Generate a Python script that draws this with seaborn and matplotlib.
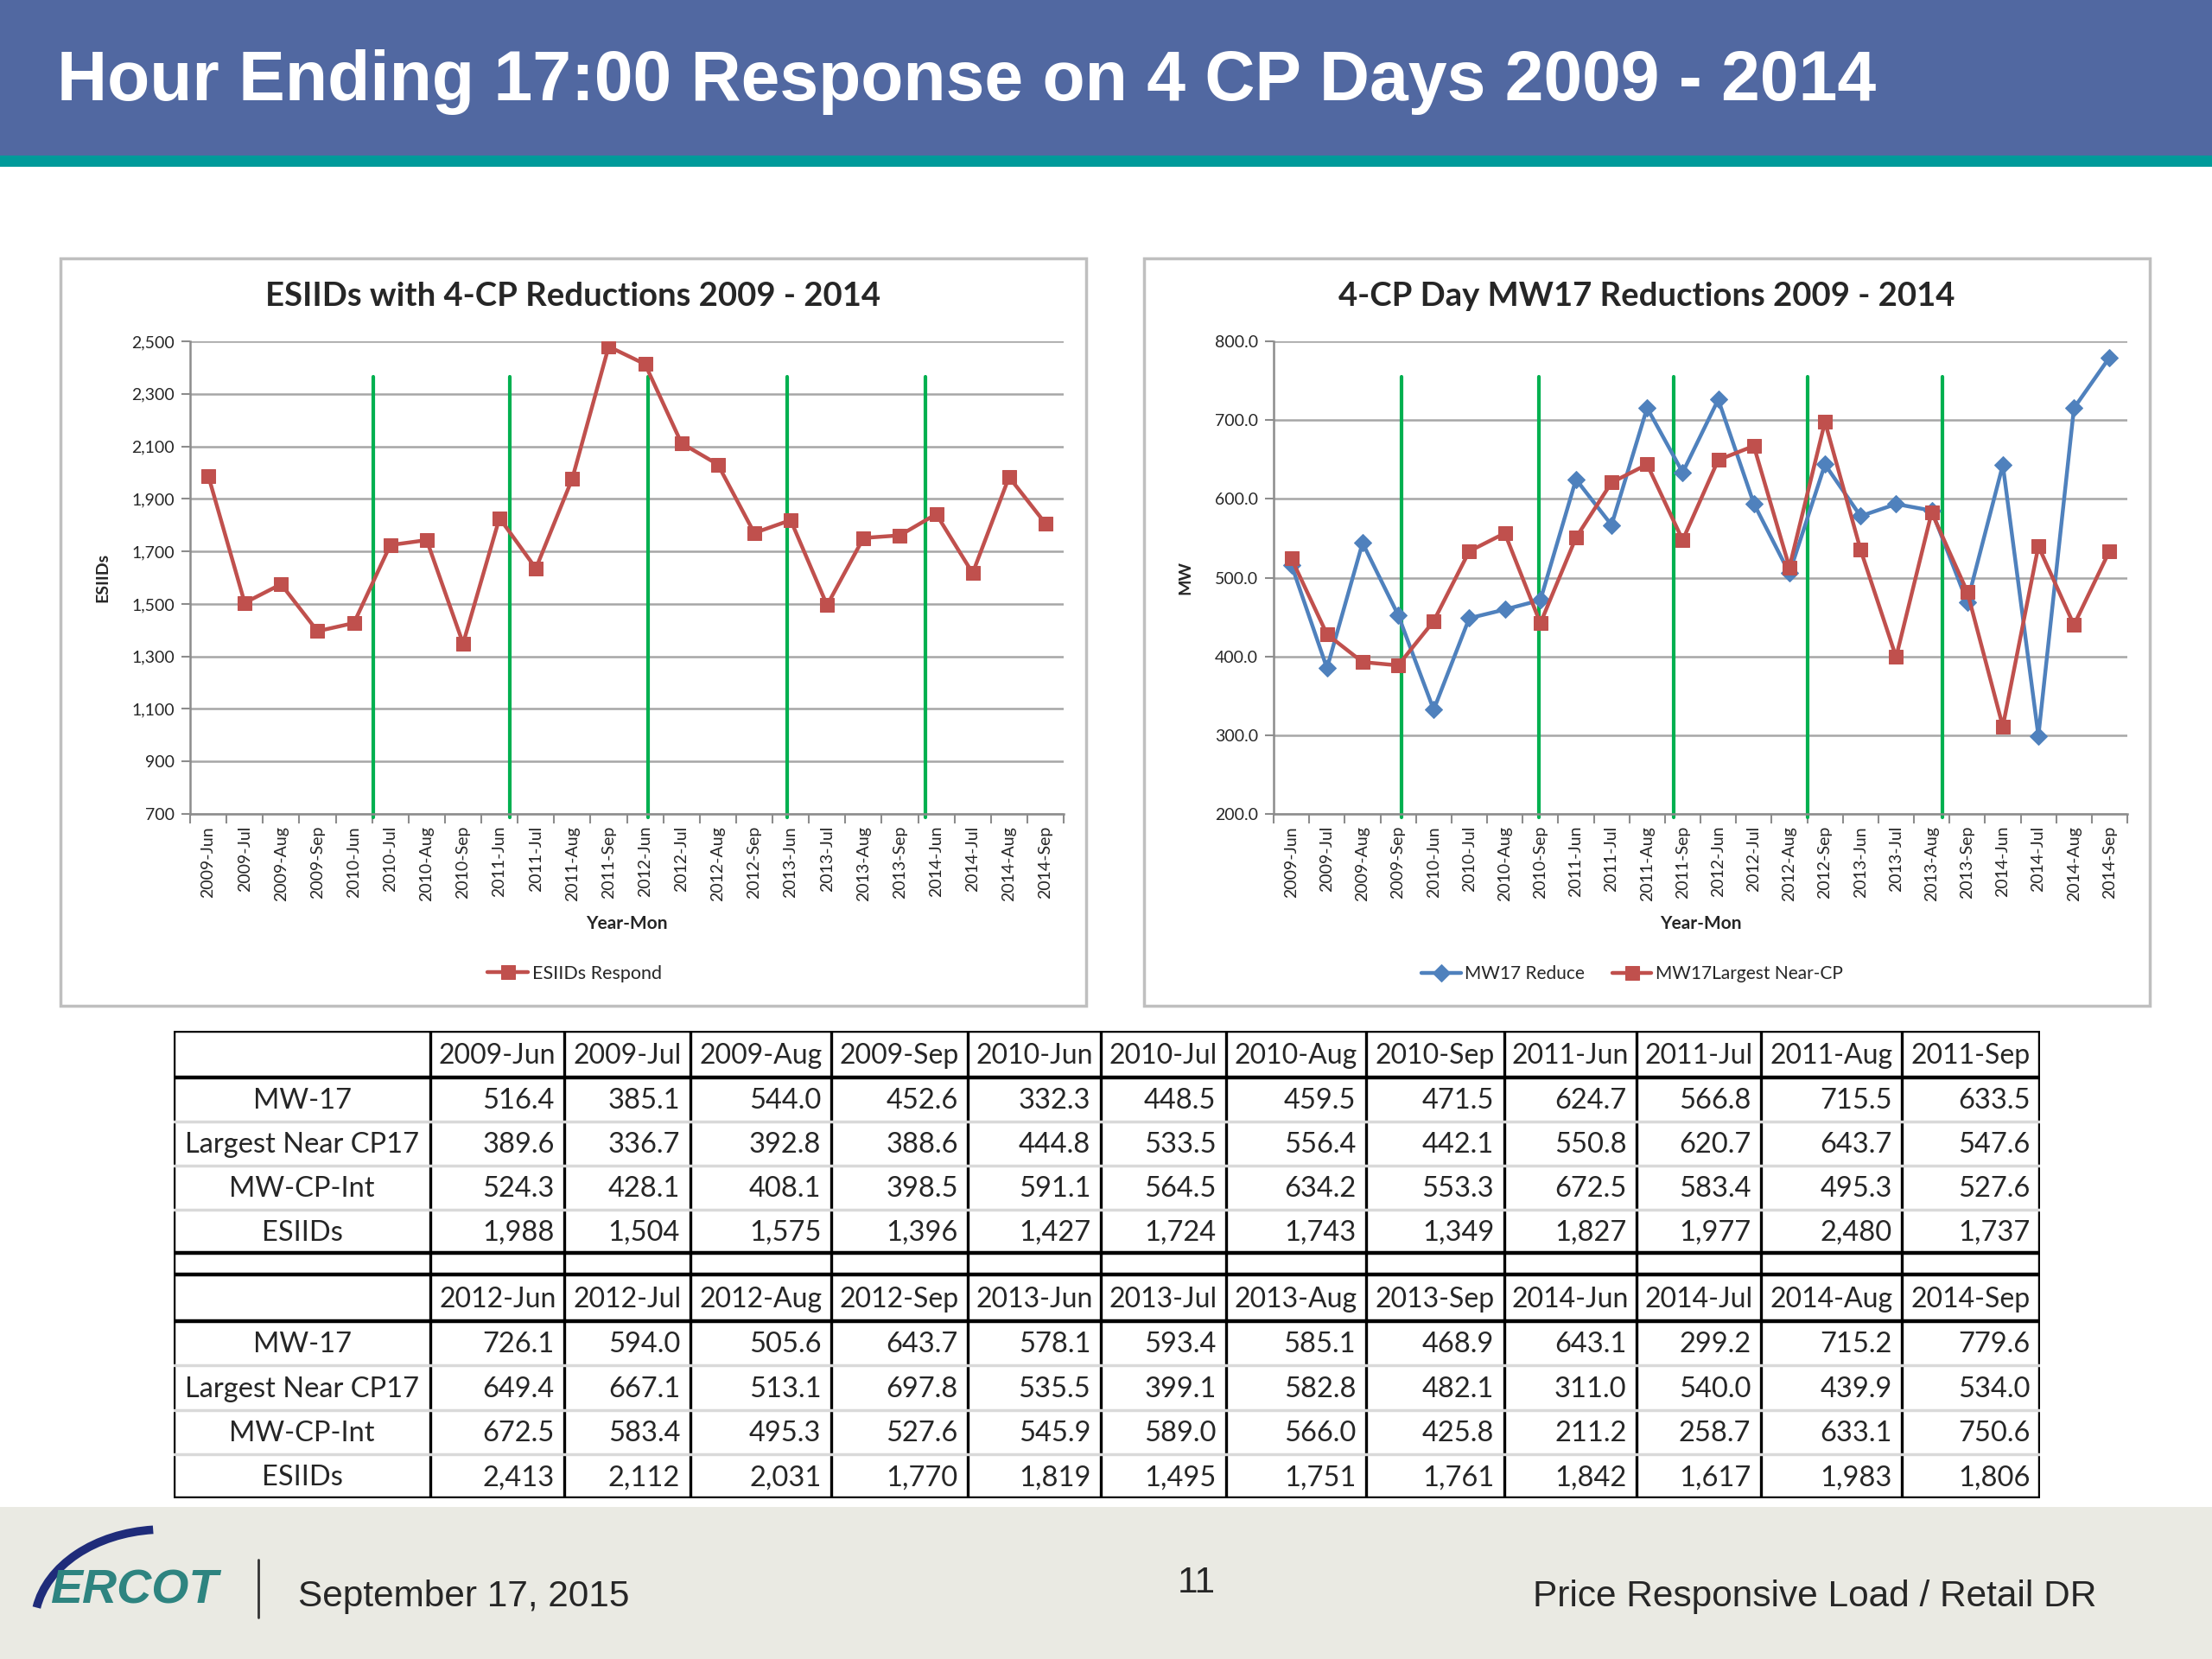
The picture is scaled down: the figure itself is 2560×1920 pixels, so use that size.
import matplotlib
matplotlib.use("Agg")
import numpy as np
import pandas as pd
import matplotlib.pyplot as plt
import seaborn as sns
from matplotlib.patches import Rectangle, Arc

# ---- data ----
months = ["2009-Jun", "2009-Jul", "2009-Aug", "2009-Sep",
          "2010-Jun", "2010-Jul", "2010-Aug", "2010-Sep",
          "2011-Jun", "2011-Jul", "2011-Aug", "2011-Sep",
          "2012-Jun", "2012-Jul", "2012-Aug", "2012-Sep",
          "2013-Jun", "2013-Jul", "2013-Aug", "2013-Sep",
          "2014-Jun", "2014-Jul", "2014-Aug", "2014-Sep"]

# chart series
esiids_respond = [1988, 1504, 1575, 1396, 1427, 1724, 1743, 1349, 1827, 1635, 1977, 2480,
                  2413, 2112, 2031, 1770, 1819, 1495, 1751, 1761, 1842, 1617, 1983, 1806]
mw17_reduce = [516.4, 385.1, 544.0, 452.6, 332.3, 448.5, 459.5, 471.5, 624.7, 566.8, 715.5, 633.5,
               726.1, 594.0, 505.6, 643.7, 578.1, 593.4, 585.1, 468.9, 643.1, 299.2, 715.2, 779.6]
mw17_near_cp = [524.3, 428.1, 392.8, 388.6, 444.8, 533.5, 556.4, 442.1, 550.8, 620.7, 643.7, 547.6,
                649.4, 667.1, 513.1, 697.8, 535.5, 399.1, 582.8, 482.1, 311.0, 540.0, 439.9, 534.0]

# separators drawn on the slide (category positions)
breaks_left = [4.54, 8.28, 12.09, 15.9, 19.7]
breaks_right = [3.1, 6.95, 10.75, 14.5, 18.3]

# table rows
row_names = ["MW-17", "Largest Near CP17", "MW-CP-Int", "ESIIDs"]
tbl_mw17 = mw17_reduce
tbl_near_cp = [389.6, 336.7, 392.8, 388.6, 444.8, 533.5, 556.4, 442.1, 550.8, 620.7, 643.7, 547.6,
               649.4, 667.1, 513.1, 697.8, 535.5, 399.1, 582.8, 482.1, 311.0, 540.0, 439.9, 534.0]
tbl_cp_int = [524.3, 428.1, 408.1, 398.5, 591.1, 564.5, 634.2, 553.3, 672.5, 583.4, 495.3, 527.6,
              672.5, 583.4, 495.3, 527.6, 545.9, 589.0, 566.0, 425.8, 211.2, 258.7, 633.1, 750.6]
tbl_esiids = [1988, 1504, 1575, 1396, 1427, 1724, 1743, 1349, 1827, 1977, 2480, 1737,
              2413, 2112, 2031, 1770, 1819, 1495, 1751, 1761, 1842, 1617, 1983, 1806]

RED = "#C0504D"
BLUE = "#4F81BD"
GREEN = "#00B050"
W, H = 2560, 1920

sns.set_theme(style="white")
plt.rcParams["font.family"] = ["Lato", "DejaVu Sans"]

fig = plt.figure(figsize=(25.6, 19.2), dpi=100)


def fx(px):
    return px / W


def fy(py):
    return 1 - py / H


def box(x0, y0, x1, y1, **kw):
    fig.patches.append(Rectangle((fx(x0), fy(y1)), fx(x1) - fx(x0), fy(y0) - fy(y1),
                                 transform=fig.transFigure, zorder=-5, **kw))


# header + footer
box(0, 0, W, 180, facecolor="#5168A1", edgecolor="none")
box(0, 180, W, 193, facecolor="#009A9A", edgecolor="none")
box(0, 1744, W, H, facecolor="#EAEAE3", edgecolor="none")
fig.text(fx(66), fy(95), "Hour Ending 17:00 Response on 4 CP Days 2009 - 2014", color="white",
         fontsize=58, fontweight="bold", family="Liberation Sans", va="center", ha="left")

# chart panels
box(70, 299, 1257, 1164, facecolor="white", edgecolor="#BFBFBF", linewidth=2.5)
box(1324, 299, 2488, 1164, facecolor="white", edgecolor="#BFBFBF", linewidth=2.5)

df = pd.DataFrame({"idx": np.arange(len(months)), "month": months,
                   "esiids": esiids_respond, "mw17": mw17_reduce, "near": mw17_near_cp})


def style_axes(ax, yticks, fmt):
    ax.set_facecolor("none")
    ax.set_xlim(-0.5, len(months) - 0.5)
    ax.set_ylim(yticks[0], yticks[-1])
    ax.set_yticks(yticks)
    ax.set_yticklabels([fmt(v) for v in yticks], fontsize=14)
    ax.set_xticks(df["idx"])
    ax.set_xticklabels(months, rotation=90, fontsize=14)
    ax.set_xticks(np.arange(len(months) + 1) - 0.5, minor=True)
    ax.tick_params(axis="x", which="major", length=0, pad=10)
    ax.tick_params(axis="x", which="minor", length=8, width=1.5, color="#8C8C8C", direction="out",
                   bottom=True)
    ax.tick_params(axis="y", length=7, width=1.5, color="#8C8C8C", direction="out", left=True, pad=6)
    for v in yticks:
        ax.axhline(v, color="#A6A6A6", linewidth=1.8, zorder=0)
    for s in ["top", "right"]:
        ax.spines[s].set_visible(False)
    for s in ["left", "bottom"]:
        ax.spines[s].set_color("#8C8C8C")
        ax.spines[s].set_linewidth(1.8)
    ax.set_xlabel("Year-Mon", fontsize=15, fontweight="bold", labelpad=12)


# left chart
axl = fig.add_axes([fx(220), fy(942), fx(1231) - fx(220), fy(395) - fy(942)])
sns.lineplot(data=df, x="idx", y="esiids", ax=axl, color=RED, linewidth=3.2, marker="s",
             markersize=12, markeredgecolor=RED, label="ESIIDs Respond", zorder=3)
style_axes(axl, list(range(700, 2501, 200)), lambda v: f"{v:,}")
axl.set_ylabel("ESIIDs", fontsize=14, fontweight="bold", labelpad=18)
for b in breaks_left:
    axl.axvline(b, ymin=-0.008, ymax=0.925, color=GREEN, linewidth=3, clip_on=False, zorder=2)
axl.legend(loc="center", bbox_to_anchor=(0.44, -0.338), frameon=False, fontsize=15.5,
           handlelength=2.2, handletextpad=0.2)
fig.text(fx(663), fy(343), "ESIIDs with 4-CP Reductions 2009 - 2014", fontsize=27.5,
         fontweight="bold", ha="center", va="center")

# right chart
axr = fig.add_axes([fx(1474), fy(942), fx(2462) - fx(1474), fy(395) - fy(942)])
sns.lineplot(data=df, x="idx", y="mw17", ax=axr, color=BLUE, linewidth=3.2, marker="D",
             markersize=10, markeredgecolor=BLUE, label="MW17 Reduce", zorder=3)
sns.lineplot(data=df, x="idx", y="near", ax=axr, color=RED, linewidth=3.2, marker="s",
             markersize=12, markeredgecolor=RED, label="MW17Largest Near-CP", zorder=4)
style_axes(axr, list(range(200, 801, 100)), lambda v: f"{v:.1f}")
axr.set_ylabel("MW", fontsize=14, fontweight="bold", labelpad=18)
for b in breaks_right:
    axr.axvline(b, ymin=-0.008, ymax=0.925, color=GREEN, linewidth=3, clip_on=False, zorder=2)
axr.legend(loc="center", bbox_to_anchor=(0.42, -0.338), frameon=False, fontsize=15, ncol=2,
           handlelength=2.2, handletextpad=0.2, columnspacing=1.5)
fig.text(fx(1906), fy(343), "4-CP Day MW17 Reductions 2009 - 2014", fontsize=27.5,
         fontweight="bold", ha="center", va="center")

# table
col_w = [182, 95, 89, 100, 97, 94, 89, 99, 98, 94, 88, 100, 98]
row_h = [33, 31, 31, 31, 31, 15, 33, 31, 32, 31, 31]
col_x = np.concatenate([[0], np.cumsum(col_w)])
row_y = np.concatenate([[0], np.cumsum(row_h)])
axt = fig.add_axes([fx(201), fy(1734), fx(2361) - fx(201), fy(1193) - fy(1734)])
axt.set_xlim(0, col_x[-1])
axt.set_ylim(row_y[-1], 0)
axt.axis("off")

thick = 3.2
for x in col_x:
    axt.plot([x, x], [0, row_y[-1]], color="black", linewidth=thick if x in (0, col_x[-1]) else 2.4)
for i, y in enumerate(row_y):
    if i in (0, 1, 5, 6, 7, 11):
        axt.plot([0, col_x[-1]], [y, y], color="black", linewidth=thick)
    else:
        axt.plot([0, col_x[-1]], [y, y], color="#D9D9D9", linewidth=2.5)

rows = [tbl_mw17, tbl_near_cp, tbl_cp_int, tbl_esiids]
fmts = [lambda v: f"{v:.1f}"] * 3 + [lambda v: f"{v:,}"]
for block, start_row in enumerate([0, 6]):
    head_y = (row_y[start_row] + row_y[start_row + 1]) / 2
    for j in range(12):
        m = months[block * 12 + j]
        axt.text((col_x[j + 1] + col_x[j + 2]) / 2, head_y + 1, m, fontsize=23,
                 ha="center", va="center")
    for r, (name, vals, fmt) in enumerate(zip(row_names, rows, fmts)):
        yc = (row_y[start_row + 1 + r] + row_y[start_row + 2 + r]) / 2 + 1
        axt.text(col_x[1] / 2, yc, name, fontsize=23.5, ha="center", va="center")
        for j in range(12):
            axt.text(col_x[j + 2] - 7, yc, fmt(vals[block * 12 + j]), fontsize=23.5,
                     ha="right", va="center")

# footer
fig.text(fx(345), fy(1848), "September 17, 2015", fontsize=30.5, family="Liberation Sans",
         ha="left", va="center")
fig.text(fx(1385), fy(1832), "11", fontsize=30.5, family="Liberation Sans", ha="center", va="center")
fig.text(fx(2426), fy(1848), "Price Responsive Load / Retail DR", fontsize=30.5,
         family="Liberation Sans", ha="right", va="center")
fig.add_artist(plt.Line2D([fx(299), fx(299)], [fy(1805), fy(1872)], color="#333333",
                          linewidth=2, transform=fig.transFigure))
fig.text(fx(155), fy(1842), "ERCOT", fontsize=40, fontweight="bold", style="italic",
         color="#2E8480", family="Liberation Sans", ha="center", va="center")
fig.patches.append(Arc((fx(190), fy(1880)), fx(300), fy(1700) - fy(1920), theta1=95, theta2=170,
                       transform=fig.transFigure, color="#1F2C7A", linewidth=7))

fig.savefig("out.png", dpi=100)
